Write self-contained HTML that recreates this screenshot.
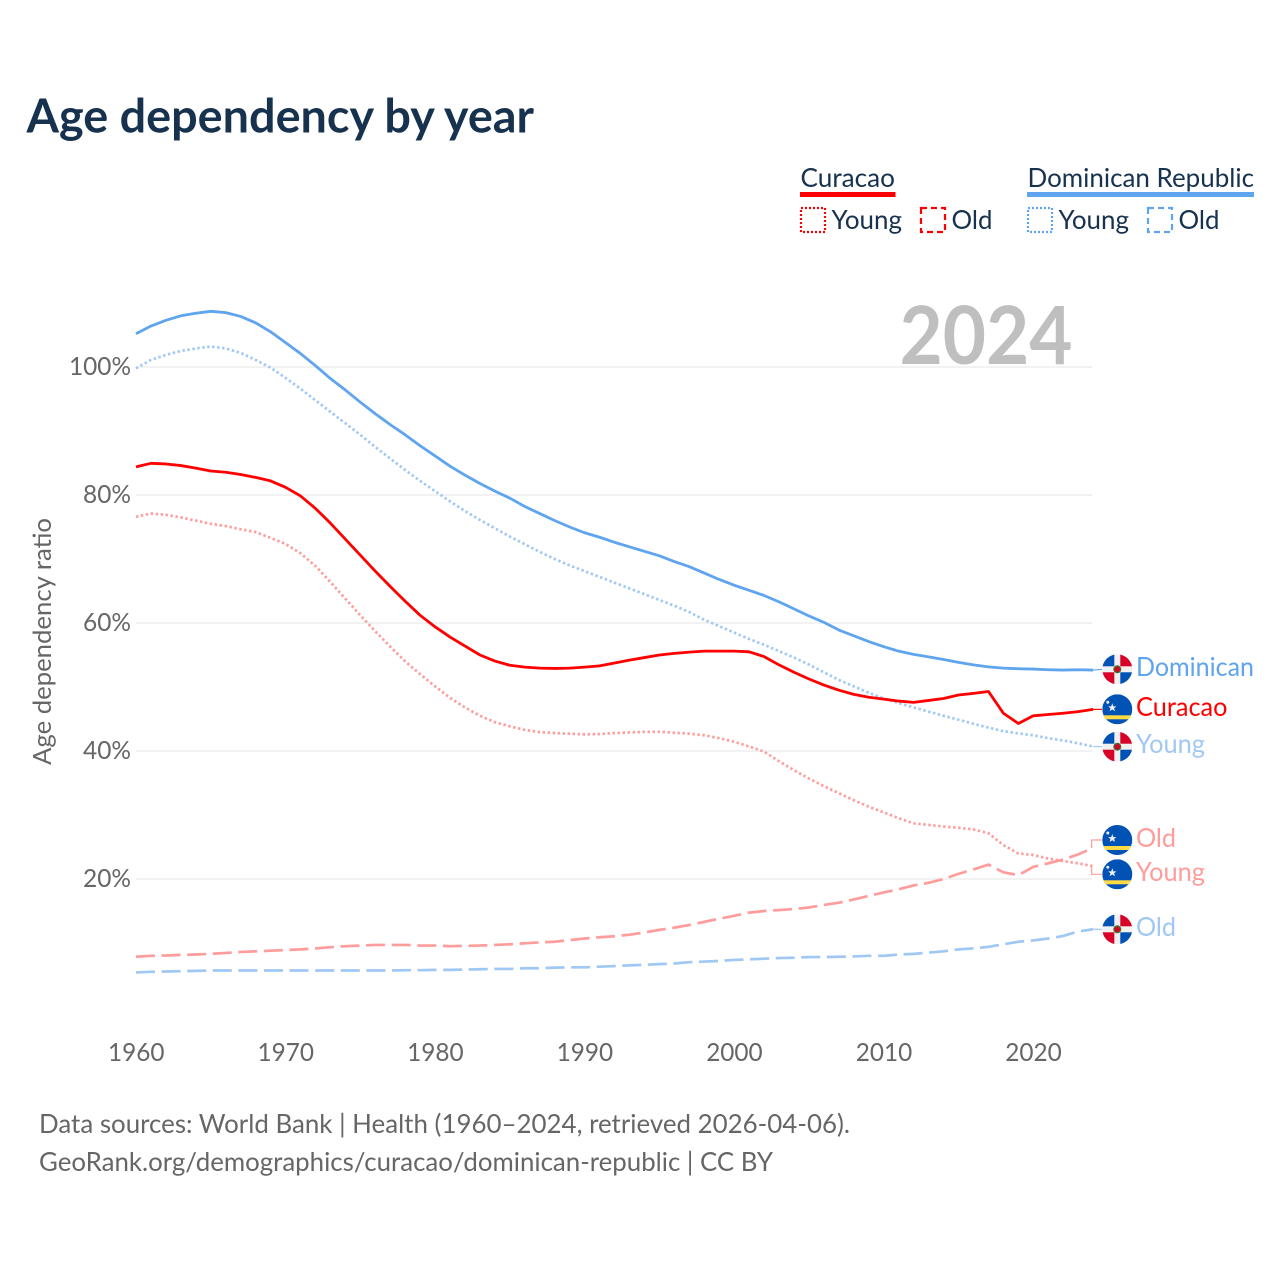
<!DOCTYPE html>
<html lang="en">
<head>
<meta charset="utf-8">
<title>Age dependency by year</title>
<style>
html,body{margin:0;padding:0;background:#fff;}
svg{display:block;}
text{font-family:"Lato","Carlito","Liberation Sans",sans-serif;}
</style>
</head>
<body>
<svg id="chart" xmlns="http://www.w3.org/2000/svg" width="1280" height="1280" viewBox="0 0 1280 1280">
<defs>
<clipPath id="flag-clip"><circle cx="0" cy="0" r="15"></circle></clipPath>
<symbol id="flag-do" viewBox="-15 -15 30 30" overflow="visible">
<g clip-path="url(#flag-clip)">
<rect x="-15" y="-15" width="30" height="30" fill="#f0f0f0"></rect>
<rect x="-15" y="-15" width="12" height="12" fill="#0052b4"></rect>
<rect x="3" y="3" width="12" height="12" fill="#0052b4"></rect>
<rect x="3" y="-15" width="12" height="12" fill="#d80027"></rect>
<rect x="-15" y="3" width="12" height="12" fill="#d80027"></rect>
<circle r="4" fill="#496e2d"></circle>
<circle r="2.7" fill="#d80027"></circle>
</g>
</symbol>
<symbol id="flag-cw" viewBox="-15 -15 30 30" overflow="visible">
<g clip-path="url(#flag-clip)">
<rect x="-15" y="-15" width="30" height="30" fill="#0052b4"></rect>
<rect x="-15" y="6" width="30" height="4" fill="#ffda44"></rect>
<polygon points="-5,-6 -3.9,-2.9 -0.8,-2.9 -3.2,-1 -2.3,2 -5,0.2 -7.7,2 -6.8,-1 -9.2,-2.9 -6.1,-2.9" fill="#f0f0f0"></polygon>
<circle cx="-9.5" cy="-7" r="1.5" fill="#f0f0f0"></circle>
</g>
</symbol>
</defs>

<rect x="0" y="0" width="1280" height="1280" fill="#ffffff"></rect>

<text x="26.5" y="132.5" font-size="47" font-weight="700" fill="#17324f" textLength="507.5" lengthAdjust="spacingAndGlyphs">Age dependency by year</text>

<g>
<text x="800.5" y="187" font-size="26.5" fill="#17324f" textLength="94.5" lengthAdjust="spacingAndGlyphs">Curacao</text>
<rect x="800" y="192" width="95.5" height="5" fill="#ff0000"></rect>
<rect x="801" y="208" width="24" height="24" fill="none" stroke="#ff0000" stroke-width="2.2" stroke-dasharray="2 2"></rect>
<text x="831.5" y="229" font-size="26.5" fill="#17324f" textLength="70.5" lengthAdjust="spacingAndGlyphs">Young</text>
<rect x="921" y="208" width="24" height="24" fill="none" stroke="#ff0000" stroke-width="2.2" stroke-dasharray="6 4"></rect>
<text x="951.5" y="229" font-size="26.5" fill="#17324f" textLength="41" lengthAdjust="spacingAndGlyphs">Old</text>

<text x="1027.5" y="187" font-size="26.5" fill="#17324f" textLength="226.5" lengthAdjust="spacingAndGlyphs">Dominican Republic</text>
<rect x="1027" y="192" width="227" height="5" fill="#5fa4ee"></rect>
<rect x="1028" y="208" width="24" height="24" fill="none" stroke="#5fa4ee" stroke-width="2.2" stroke-dasharray="2 2"></rect>
<text x="1058.5" y="229" font-size="26.5" fill="#17324f" textLength="70.5" lengthAdjust="spacingAndGlyphs">Young</text>
<rect x="1148" y="208" width="24" height="24" fill="none" stroke="#5fa4ee" stroke-width="2.2" stroke-dasharray="6 4"></rect>
<text x="1178.5" y="229" font-size="26.5" fill="#17324f" textLength="41" lengthAdjust="spacingAndGlyphs">Old</text>
</g>

<text x="899.5" y="364" font-size="80.5" font-weight="700" fill="#bfbfbf" textLength="173" lengthAdjust="spacingAndGlyphs">2024</text>

<text transform="translate(51,765) rotate(-90)" x="0" y="0" font-size="25.5" fill="#666666" textLength="247" lengthAdjust="spacingAndGlyphs">Age dependency ratio</text>

<g id="grid"></g>
<g id="yticks"></g>
<g id="xticks"></g>
<g id="series"></g>
<g id="endlabels"></g>

<g>
<text x="39" y="1133" font-size="26" fill="#666666" textLength="811" lengthAdjust="spacingAndGlyphs">Data sources: World Bank | Health (1960–2024, retrieved 2026-04-06).</text>
<text x="39" y="1171" font-size="26" fill="#666666" textLength="734" lengthAdjust="spacingAndGlyphs">GeoRank.org/demographics/curacao/dominican-republic | CC BY</text>
</g>
</svg>

<script>
const years = [1960,1961,1962,1963,1964,1965,1966,1967,1968,1969,1970,1971,1972,1973,1974,1975,1976,1977,1978,1979,1980,1981,1982,1983,1984,1985,1986,1987,1988,1989,1990,1991,1992,1993,1994,1995,1996,1997,1998,1999,2000,2001,2002,2003,2004,2005,2006,2007,2008,2009,2010,2011,2012,2013,2014,2015,2016,2017,2018,2019,2020,2021,2022,2023,2024];
const yTickValues = [20,40,60,80,100];
const xTickValues = [1960,1970,1980,1990,2000,2010,2020];

const dominicanTotal = [105.2,106.4,107.3,108.0,108.4,108.7,108.5,107.9,106.9,105.5,103.8,102.1,100.2,98.2,96.4,94.5,92.7,91.0,89.4,87.7,86.1,84.5,83.1,81.8,80.6,79.5,78.2,77.1,76.0,75.0,74.1,73.4,72.6,71.9,71.2,70.5,69.6,68.8,67.8,66.8,65.9,65.1,64.3,63.3,62.2,61.1,60.1,58.9,58.0,57.1,56.3,55.6,55.1,54.7,54.3,53.85,53.45,53.15,52.95,52.85,52.8,52.7,52.65,52.7,52.65];
const dominicanYoung = [99.8,101.1,101.9,102.5,102.9,103.2,102.9,102.2,101.1,99.9,98.3,96.6,94.8,93.0,91.2,89.4,87.5,85.7,83.9,82.2,80.6,79.0,77.5,76.1,74.8,73.5,72.3,71.1,70.0,69.0,68.1,67.2,66.3,65.4,64.5,63.6,62.7,61.7,60.5,59.5,58.5,57.5,56.6,55.6,54.6,53.5,52.3,51.1,50.1,49.1,48.2,47.5,46.8,46.15,45.5,44.9,44.25,43.65,43.1,42.75,42.45,42.0,41.65,41.2,40.7];
const dominicanOld = [5.4,5.5,5.55,5.6,5.65,5.7,5.7,5.7,5.7,5.7,5.7,5.7,5.7,5.7,5.7,5.7,5.7,5.7,5.75,5.75,5.8,5.8,5.85,5.9,5.95,5.95,6.05,6.05,6.15,6.2,6.2,6.3,6.4,6.5,6.6,6.7,6.8,7.0,7.1,7.2,7.35,7.45,7.55,7.65,7.7,7.8,7.8,7.85,7.9,8.0,8.0,8.2,8.3,8.5,8.7,9.0,9.15,9.4,9.8,10.2,10.4,10.7,11.1,11.8,12.15];
const curacaoTotal = [84.4,84.95,84.85,84.6,84.2,83.75,83.55,83.2,82.75,82.2,81.2,79.85,77.9,75.6,73.1,70.6,68.1,65.7,63.4,61.2,59.4,57.8,56.4,55.0,54.05,53.4,53.1,52.95,52.9,52.95,53.1,53.3,53.75,54.2,54.6,55.0,55.25,55.45,55.6,55.6,55.6,55.5,54.75,53.45,52.3,51.25,50.3,49.5,48.85,48.4,48.1,47.8,47.6,47.9,48.2,48.75,49.0,49.3,45.9,44.3,45.5,45.7,45.9,46.15,46.5];
const curacaoYoung = [76.6,77.1,76.9,76.5,76.0,75.5,75.15,74.65,74.2,73.3,72.35,70.9,68.9,66.4,63.8,61.2,58.7,56.3,54.0,52.0,50.1,48.3,46.8,45.5,44.5,43.85,43.3,42.95,42.8,42.7,42.6,42.65,42.8,42.9,43.0,43.0,42.85,42.7,42.45,42.0,41.45,40.7,39.9,38.4,37.0,35.7,34.5,33.4,32.3,31.3,30.4,29.5,28.7,28.45,28.2,28.0,27.75,27.15,25.3,24.0,23.75,23.2,22.8,22.45,22.0];
const curacaoOld = [7.85,8.0,8.05,8.15,8.2,8.3,8.45,8.6,8.7,8.8,8.9,9.0,9.15,9.35,9.5,9.6,9.7,9.7,9.7,9.6,9.6,9.5,9.55,9.6,9.7,9.8,9.95,10.1,10.2,10.45,10.7,10.9,11.05,11.3,11.65,12.05,12.4,12.8,13.3,13.8,14.25,14.75,15.0,15.15,15.3,15.55,15.95,16.3,16.8,17.35,17.9,18.4,19.0,19.4,20.0,20.8,21.5,22.25,21.05,20.6,21.9,22.45,23.05,23.85,24.85];

const SVGNS = 'http://www.w3.org/2000/svg';
function xScale(yr){ return 136 + (yr - 1960) * 14.955; }
function yScale(v){ return 1007 - v * 6.4; }
function make(tag, attrs, parent){
  const el = document.createElementNS(SVGNS, tag);
  for (const k in attrs) el.setAttribute(k, attrs[k]);
  parent.appendChild(el);
  return el;
}

const gridG = document.getElementById('grid');
const yG = document.getElementById('yticks');
const xG = document.getElementById('xticks');
const seriesG = document.getElementById('series');
const labelG = document.getElementById('endlabels');

yTickValues.forEach(function(v){
  const line = make('line', {x1:136, x2:1092, y1:yScale(v), y2:yScale(v), stroke:'#eeeeee', 'stroke-width':1.6}, gridG);
  
  
  const label = String(v) + '%';
  const t = make('text', {x:131, y:yScale(v)+8, 'text-anchor':'end', 'font-size':25.5, fill:'#666666', textLength:(14*String(v).length+20), lengthAdjust:'spacingAndGlyphs'}, yG);
  t.textContent = label;
  
  
});

xTickValues.forEach(function(yr){
  const t = make('text', {x:xScale(yr)-28, y:1061, 'font-size':25.5, fill:'#666666', textLength:56.5, lengthAdjust:'spacingAndGlyphs'}, xG);
  t.textContent = String(yr);
  
  
});

function drawSeries(values, color, width, dash, name){
  const d = values.map(function(v,i){ return (i ? 'L' : 'M') + xScale(years[i]).toFixed(2) + ' ' + yScale(v).toFixed(2); }).join(' ');
  const attrs = {d:d, fill:'none', stroke:color, 'stroke-width':width, 'stroke-linejoin':'round'};
  if (dash) attrs['stroke-dasharray'] = dash;
  const p = make('path', attrs, seriesG);
  
  
}

const RED = '#ff0000', BLUE = '#5fa4ee', PINK = '#ff9c9c', SKY = '#a0c8f4';
drawSeries(dominicanOld, SKY, 2.7, '19 6.6', 'line-dominican-old');
drawSeries(curacaoOld, PINK, 2.7, '19 6.6', 'line-curacao-old');
drawSeries(curacaoYoung, PINK, 2.7, '2.4 2.6', 'line-curacao-young');
drawSeries(dominicanYoung, SKY, 2.7, '2.4 2.6', 'line-dominican-young');
drawSeries(dominicanTotal, BLUE, 2.8, null, 'line-dominican-total');
drawSeries(curacaoTotal, RED, 2.8, null, 'line-curacao-total');

function endLabel(values, flag, text, color, flagY, baseline, width, elbow, name){
  const lastX = xScale(years[years.length-1]);
  const lastY = yScale(values[values.length-1]);
  const d = elbow
    ? 'M' + (lastX-1.5) + ' ' + lastY + ' L1091.7 ' + flagY + ' L1102 ' + flagY
    : 'M' + lastX + ' ' + lastY + ' L1102 ' + flagY;
  const c = make('path', {d:d, fill:'none', stroke:color, 'stroke-width':1.2}, labelG);
  
  
  const u = make('use', {href:'#' + flag, x:1102.3, y:flagY-15, width:30, height:30}, labelG);
  
  
  const t = make('text', {x:1136, y:baseline, 'font-size':26.5, fill:color, textLength:width, lengthAdjust:'spacingAndGlyphs'}, labelG);
  t.textContent = text;
  
  
}

endLabel(dominicanTotal, 'flag-do', 'Dominican', BLUE, 669.3, 676, 118, false, 'end-dominican-total');
endLabel(curacaoTotal, 'flag-cw', 'Curacao', RED, 709.3, 716, 91.5, false, 'end-curacao-total');
endLabel(dominicanYoung, 'flag-do', 'Young', SKY, 746.7, 753, 69, false, 'end-dominican-young');
endLabel(curacaoOld, 'flag-cw', 'Old', PINK, 840, 847, 40, true, 'end-curacao-old');
endLabel(curacaoYoung, 'flag-cw', 'Young', PINK, 874.3, 881, 69, true, 'end-curacao-young');
endLabel(dominicanOld, 'flag-do', 'Old', SKY, 929.3, 936, 40, false, 'end-dominican-old');
</script>
</body>
</html>
